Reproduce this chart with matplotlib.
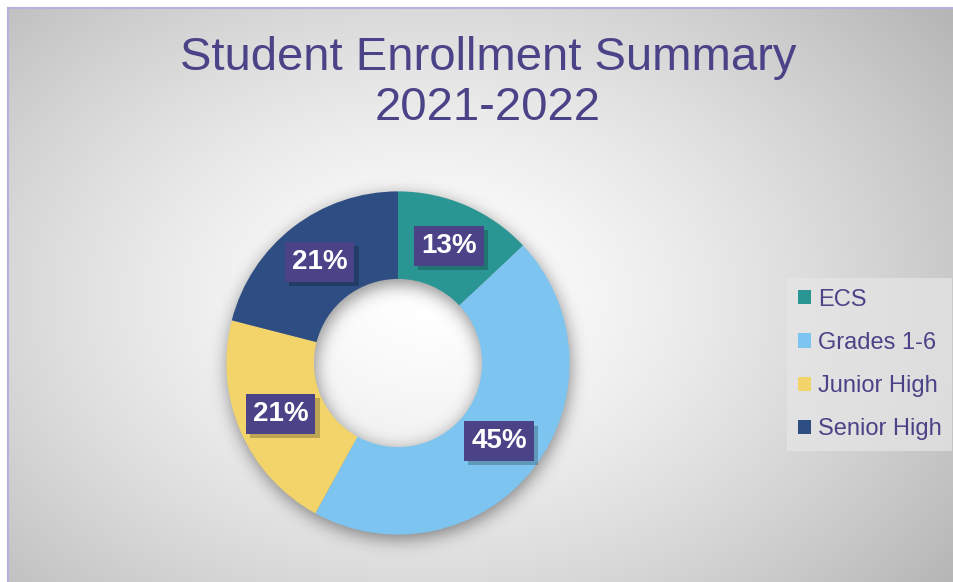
import numpy as np
import matplotlib.pyplot as plt
import matplotlib.patheffects as pe

plt.rcParams['font.family'] = ['Liberation Sans', 'DejaVu Sans']

categories = ['ECS', 'Grades 1-6', 'Junior High', 'Senior High']
shares = [13, 45, 21, 21]
colors = ['#2A9693', '#7DC5F0', '#F3D46B', '#2E4D82']
title = 'Student Enrollment Summary\n2021-2022'

purple = '#4B4387'
W, H = 954, 582
fig = plt.figure(figsize=(W / 100, H / 100), dpi=100)
fig.patch.set_facecolor('white')

# background panel with a soft radial gradient
bg = fig.add_axes([8 / W, 0, 1 - 8 / W, 1 - 8 / H])
bg.set_axis_off()
yy, xx = np.mgrid[0:H - 8, 0:W - 8]
cx, cy = 420, 290
d = np.sqrt(((xx - cx) / 560.0) ** 2 + ((yy - cy) / 400.0) ** 2)
shade = 1.0 - 0.23 * np.clip(d, 0, 1.2) ** 1.4
bg.imshow(np.dstack([shade] * 3), extent=[0, 1, 0, 1], aspect='auto',
          interpolation='bilinear', zorder=0)
bg.set_xlim(0, 1)
bg.set_ylim(0, 1)
fig.add_artist(plt.Line2D([8 / W, 8 / W], [0, 1 - 8 / H], color='#B9B0DE', lw=1.5))
fig.add_artist(plt.Line2D([8 / W, 1], [1 - 8 / H, 1 - 8 / H], color='#B9B0DE', lw=1.5))

# donut axes, centred at (398, 363) px with outer radius 165 px
R = 165
lim = 1.3
size = 2 * lim * R
ax = fig.add_axes([(398 - size / 2) / W, (H - 363 - size / 2) / H, size / W, size / H])
ax.set_xlim(-lim, lim)
ax.set_ylim(-lim, lim)
ax.set_aspect('equal')
ax.set_axis_off()

# blurred shadow of the ring
n = 400
g = np.linspace(-lim, lim, n)
gx, gy = np.meshgrid(g, g)
rr = np.sqrt((gx - 0.01) ** 2 + (gy + 0.03) ** 2)
ring = ((rr <= 1.0) & (rr >= 0.49)).astype(float)
k = np.fft.fftfreq(n, d=(2 * lim) / n)
kx, ky = np.meshgrid(k, k)
sig = 0.05
blur = np.real(np.fft.ifft2(np.fft.fft2(ring) * np.exp(-2 * (np.pi * sig) ** 2 * (kx ** 2 + ky ** 2))))
rgba = np.zeros((n, n, 4))
rgba[..., 3] = np.clip(blur, 0, 1) * 0.45
ax.imshow(rgba, extent=[-lim, lim, -lim, lim], origin='lower', zorder=1,
          interpolation='bilinear')

wedges, _ = ax.pie(shares, colors=colors, startangle=90, counterclock=False,
                   radius=1.0, wedgeprops=dict(width=0.51, edgecolor='none'))
for w in wedges:
    w.set_zorder(2)

# value labels in purple boxes at the middle of the ring
total = sum(shares)
start = 90.0
for val, w in zip(shares, wedges):
    mid = np.deg2rad(start - 360.0 * val / total / 2)
    start -= 360.0 * val / total
    x, y = 0.745 * np.cos(mid), 0.745 * np.sin(mid)
    t = ax.text(x, y, f'{val}%', fontsize=20, fontweight='bold', color='white',
                ha='center', va='center', zorder=4,
                bbox=dict(boxstyle='square,pad=0.25', facecolor=purple,
                          edgecolor='none'))
    t.get_bbox_patch().set_path_effects([
        pe.SimplePatchShadow(offset=(3, -3), shadow_rgbFace='black', alpha=0.22),
        pe.Normal()])

leg = fig.legend(wedges, categories, loc='upper left',
                 bbox_to_anchor=(787 / W, 1 - 278 / H), frameon=True,
                 fontsize=17, labelcolor=purple, handlelength=0.55,
                 handleheight=0.55, handletextpad=0.3, labelspacing=0.9,
                 borderpad=0.45, borderaxespad=0)
leg.get_frame().set_facecolor('#E6E6E6')
leg.get_frame().set_edgecolor('none')
leg.get_frame().set_alpha(0.7)
leg.get_frame().set_boxstyle('square', pad=0)

fig.text(488 / W, 1 - 83 / H, title, fontsize=34, color=purple,
         ha='center', va='center', linespacing=1.15)

fig.savefig('out.png', dpi=100)
